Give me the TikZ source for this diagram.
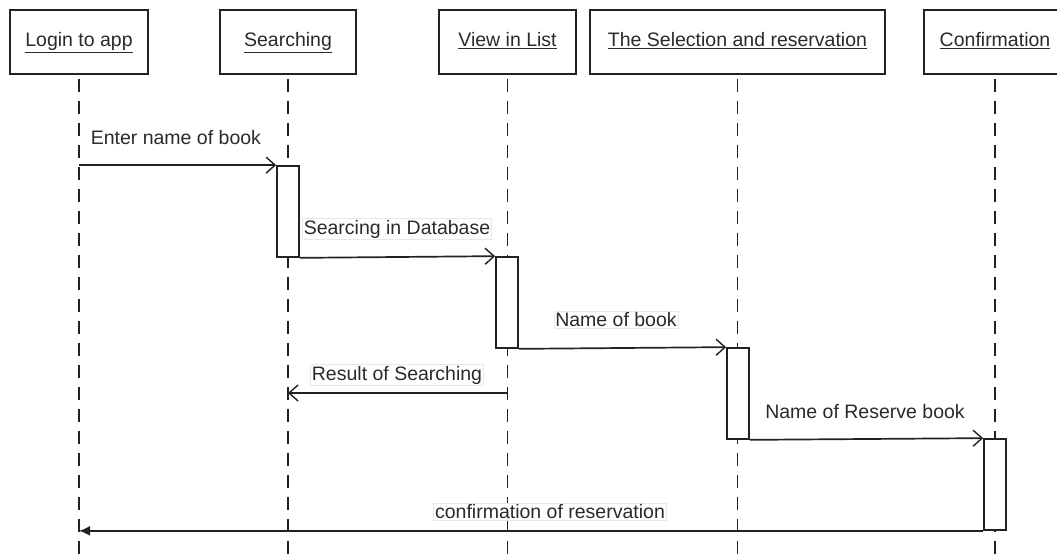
\documentclass[tikz,border=0pt]{standalone}
\usepackage{fontspec}
\setmainfont{Liberation Sans}
\usetikzlibrary{arrows.meta}
\definecolor{ink}{HTML}{222222}
\definecolor{txt}{HTML}{2A2A2A}
% header title: underlined, baseline set 5pt below the box centre
\newcommand{\headtext}[1]{\raisebox{-5pt}[0pt][0pt]{\underline{#1}}}
\tikzset{
  head/.style={draw=ink, line width=1.8pt, fill=white, minimum height=64pt,
    text=txt, inner sep=0pt},
  life/.style={draw=ink, line width=1.7pt, dash pattern=on 13pt off 9pt},
  act/.style={draw=ink, line width=1.7pt, fill=white, minimum width=22pt,
    minimum height=91pt, inner sep=0pt},
  msg/.style={draw=ink, line width=1.7pt, -{Straight Barb[length=9pt,width=16pt,line width=1.4pt]}},
  reply/.style={draw=ink, line width=1.7pt, -{Latex[length=11pt,width=10pt]}},
  lbl/.style={text=txt, draw=black!9, line width=0.6pt, fill=white, inner sep=1.5pt},
}
\begin{document}
\begin{tikzpicture}[x=1pt, y=-1pt, font=\fontsize{19.5}{23}\selectfont]
\useasboundingbox (0,0) rectangle (1057,559);
\clip (0,0) rectangle (1057,559);
\fill[white] (0,0) rectangle (1057,559);

% lifeline bottoms and the level of the returned result
\coordinate (bottom) at (0,560);
\coordinate (res) at (0,393);

% participant heads
\node[head, minimum width=138pt] (login)   at (79,42)    {\headtext{Login to app}};
\node[head, minimum width=136pt] (search)  at (288,42)   {\headtext{Searching}};
\node[head, minimum width=137pt] (view)    at (507.5,42) {\headtext{View in List}};
\node[head, minimum width=295pt] (select)  at (737.5,42) {\headtext{The Selection and reservation}};
\node[head, minimum width=142pt] (confirm) at (995,42)   {\headtext{Confirmation}};

% lifelines
\draw[life] ([yshift=-4pt]login.south)   -- (login.south |- bottom);
\draw[life] ([yshift=-4pt]search.south)  -- (search.south |- bottom);
\draw[life] ([yshift=-4pt]view.south)    -- (view.south |- bottom);
\draw[life] ([yshift=-4pt]select.south)  -- (select.south |- bottom);
\draw[life] ([yshift=-4pt]confirm.south) -- (confirm.south |- bottom);

% activation bars
\node[act] (a1) at (288,211.5) {};
\node[act] (a2) at (507,302.5) {};
\node[act] (a3) at (738,393.5) {};
\node[act] (a4) at (995,484.5) {};

% messages
\draw[msg] (login.south |- a1.north) -- (a1.north west);
\draw[msg] (a1.south east) -- (a2.north west);
\draw[msg] (a2.south east) -- (a3.north west);
\draw[msg] (view.south |- res) -- (search.south |- res);
\draw[msg] (a3.south east) -- (a4.north west);
\draw[reply] (a4.south west) -- (login.south |- a4.south);

% message labels
\node[lbl, draw=none, anchor=west] (m1) at (89,138) {Enter name of book};
\node[lbl] (m2) at (397,229) {Searcing in Database};
\node[lbl] (m3) at (616,320) {Name of book};
\node[lbl] (m4) at (397,375) {Result of Searching};
\node[lbl, draw=none] (m5) at (865,412) {Name of Reserve book};
\node[lbl] (m6) at (550,512) {confirmation of reservation};
\end{tikzpicture}
\end{document}
